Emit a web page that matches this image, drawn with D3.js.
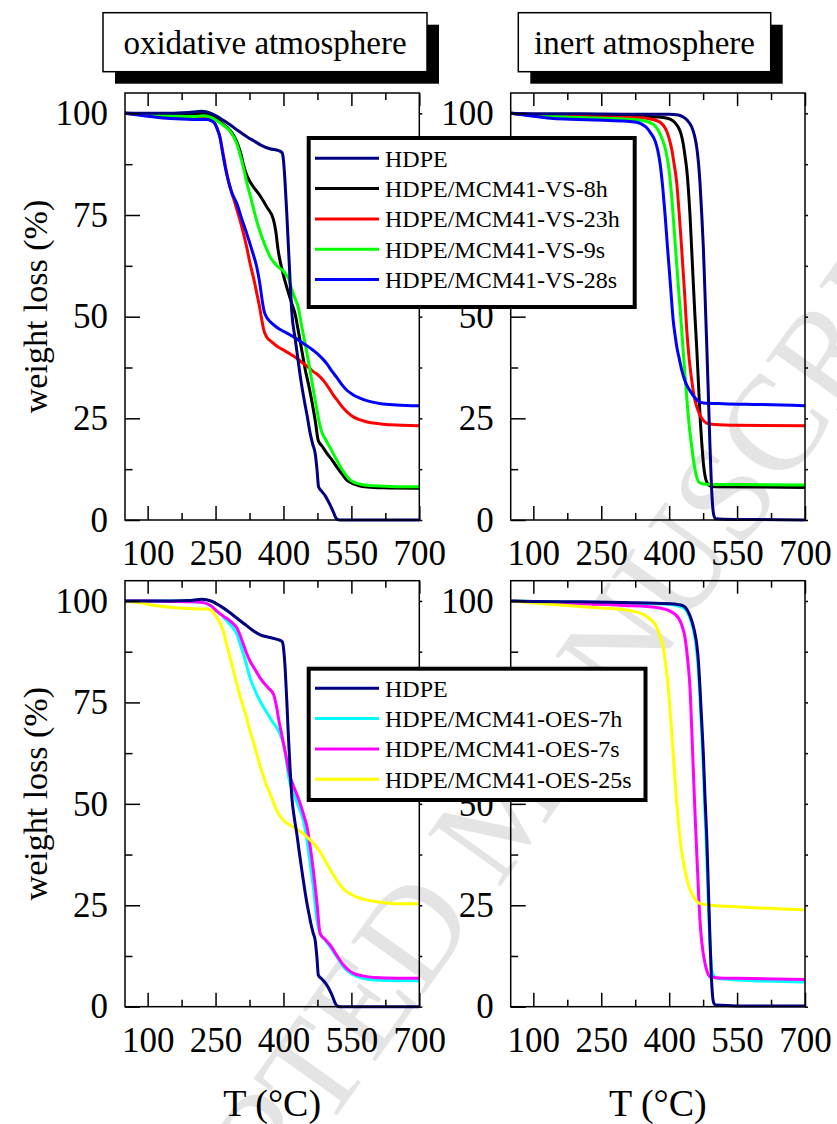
<!DOCTYPE html>
<html>
<head>
<meta charset="utf-8">
<script src="https://cdn.jsdelivr.net/npm/d3@7"></script>
<style>
  body { margin: 0; background: #fff; }
</style>
</head>
<body>
<div id="chart"></div>
<script>
// axis ticks
const tMajor = [100, 250, 400, 550, 700];
const tMinor = [175, 325, 475, 625];
const wMajor = [0, 25, 50, 75, 100];
const wMinor = [12.5, 37.5, 62.5, 87.5];
const wRight = [0, 12.5, 25, 37.5, 50, 62.5, 75, 87.5, 100];

// legend names / colours
const vsNames = ["HDPE", "HDPE/MCM41-VS-8h", "HDPE/MCM41-VS-23h", "HDPE/MCM41-VS-9s", "HDPE/MCM41-VS-28s"];
const vsColors = ["#000080", "#000000", "#ff0000", "#00ff00", "#0000ff"];
const oesNames = ["HDPE", "HDPE/MCM41-OES-7h", "HDPE/MCM41-OES-7s", "HDPE/MCM41-OES-25s"];
const oesColors = ["#000080", "#00ffff", "#ff00ff", "#ffff00"];

// oxidative atmosphere, VS samples  [T, weight %]
const oxHDPE = [[50,100],[100,100],[150,100],[190,100.2],[220,100.5],[240,100],[260,98.8],[282,97.2],[300,95.7],[320,94.2],[335,93.2],[350,92.2],[370,91.3],[390,90.8],[397,90.3],[400,88.5],[403,84],[407,76],[411,67],[415,58],[418.5,51],[426,44.5],[432,39.5],[438.4,34.4],[445,30],[452,25.8],[459,21.3],[465,18.5],[470,16.4],[474,12.5],[477.5,8.2],[485,7],[492,6],[498,4.8],[503,3.7],[510,2],[518,0.2],[525,0],[600,0],[700,0]];
const oxVS8h = [[50,100],[100,99.9],[150,99.8],[200,99.8],[225,99.9],[240,99.5],[253,98.6],[268,97.2],[282,95.8],[297,93],[306,90],[312,87.2],[320,84.5],[330,82.5],[348,79.8],[363,77],[378,73.8],[383,71],[388,66.5],[396,62],[404,58.5],[412,55.5],[419,53],[426,50.5],[432,47],[440,42],[448,37],[456,33],[463,29],[470,24.5],[477,19.5],[485,18.2],[496,16.4],[507,14.8],[518,13],[530,11.2],[540,9.8],[552,9],[565,8.5],[585,8.1],[620,7.9],[700,7.8]];
const oxVS23h = [[50,100],[100,99.5],[150,99.2],[200,99.1],[225,99.1],[240,98.4],[249,97.4],[255,95.8],[260,94],[266,90.5],[271,87.5],[277,84],[282,81.8],[290,79],[297,76.4],[305,73.3],[312,70.3],[319,67],[326,63.2],[334,59.5],[341,55.8],[347,52.5],[352,49.3],[357,46.5],[363,45],[374,43.8],[385,42.8],[400,41.8],[415,40.8],[430,39.7],[444,38.5],[456,37.5],[466,36.5],[478,35.5],[489,34.2],[500,32.5],[511,30.6],[522,29],[533,27.4],[544,26.2],[555,25.3],[570,24.6],[585,24.1],[610,23.7],[636,23.4],[700,23.2]];
const oxVS9s = [[50,100],[100,99.7],[150,99.4],[200,99.2],[225,99.4],[240,99],[253,98.2],[268,97],[282,95.6],[297,92.5],[305,89.5],[312,86.5],[320,82.5],[326,80],[334,76.5],[341,73.5],[348,71],[356,68.5],[364,66.3],[371,64.6],[378,63.5],[385,62.6],[393,61.8],[400,61.2],[406,60.3],[411,59.5],[416,57.5],[422,55.5],[428,53.8],[433,52.2],[438,49],[444,45.5],[452,41],[459,36.5],[466,32],[474,27],[480,23.5],[485,21.5],[494,19.6],[503,17.8],[514,15.5],[525,13.2],[535,11.5],[544,10.2],[555,9.3],[570,8.8],[599,8.4],[650,8.2],[700,8.2]];
const oxVS28s = [[50,100],[100,99.3],[150,98.7],[200,98.5],[230,98.5],[240,98.2],[249,97.4],[255,95.8],[260,94],[266,90],[271,87],[278,83.5],[286,80.5],[297,77.8],[308,74],[319,70.4],[330,66.5],[341,62.2],[348,58],[353,54],[357,51.5],[362,50],[367,49.2],[376,48.2],[385,47.4],[400,46.4],[415,45.5],[430,44.5],[444,43.4],[460,42.2],[474,41],[485,39.8],[496,38.4],[507,36.6],[518,35],[529,33.3],[540,31.9],[551,31],[562,30.3],[577,29.6],[592,29.1],[615,28.6],[650,28.3],[700,28.1]];

// inert atmosphere, VS samples
const inHDPE = [[50,100],[100,99.9],[200,99.9],[300,99.8],[400,99.8],[420,99.6],[431,99.1],[440,98.3],[450,96.6],[456,94.5],[461,91.5],[465,87.5],[468,83],[472,75],[475.5,67],[479,56],[483,43],[486.5,31],[490,18.5],[493,9.5],[496,3.5],[499,1],[503,0.3],[520,0.2],[600,0.1],[700,0]];
const inVS8h = [[50,100],[100,99.7],[200,99.5],[300,99.3],[372,99.1],[390,98.9],[402,98.6],[412,97.8],[420,96.6],[426,95],[431,92.5],[435,89.5],[439,86],[442,82],[446,75],[449.5,67],[453,59],[457,50],[461,42],[464.5,34],[468,26],[472,19],[475.5,14],[479,11],[483,9.3],[490,8.4],[500,8.2],[600,8.1],[700,8]];
const inVS23h = [[50,100],[100,99.5],[200,99.2],[300,99],[340,98.9],[358,98.6],[370,98.3],[380,97.8],[388,96.9],[394.5,95.6],[400,93.8],[405.6,91.2],[411,87.5],[416.6,83],[421,77],[425,71],[428,66],[431,61],[434.5,55],[438.7,47],[443,41],[449.8,34.4],[455,30.5],[461,27.8],[468,25.8],[475.5,24.5],[483,23.8],[500,23.5],[549,23.3],[700,23.2]];
const inVS9s = [[50,100],[100,99.5],[200,99],[300,98.6],[343,98.2],[360,97.6],[369,96.9],[377,95.6],[383.5,94],[389,92.3],[394.5,89.8],[400,85.8],[405.6,79.5],[411,71.5],[416.6,63],[422,55],[427.7,46.7],[433,38.5],[438.7,30.3],[444,23.5],[449.8,18],[455,13.8],[461,10.5],[468,9.1],[480,8.8],[550,8.7],[700,8.6]];
const inVS28s = [[50,100],[100,99.3],[144,98.7],[200,98.5],[255,98.3],[300,98.1],[328,97.8],[340,97.3],[350,96.5],[360,95],[369,93.2],[375,90.8],[380,87.6],[386,81.5],[391,75],[396,67.5],[402,59],[406,53],[409,49],[413,45.5],[417,42.5],[422,39.8],[427.7,36.9],[434,34.5],[440,32.9],[446,31.8],[455,30.3],[464.5,29.2],[475.5,28.8],[520,28.6],[600,28.4],[700,28.1]];

// oxidative atmosphere, OES samples
const oxHDPE2 = [[50,100],[100,100],[150,100],[190,100.1],[220,100.4],[240,100],[260,98.8],[282,97.1],[300,95.5],[320,93.8],[334,92.6],[350,91.6],[370,91],[390,90.4],[397,90],[400,88.5],[404,82.8],[407.5,75],[411,66.4],[415,58],[418.5,51.6],[424,46.5],[429.5,42.6],[435,38],[440.6,33.6],[446,29.5],[452,25.4],[457,22.5],[460.5,20.5],[466,18],[470,16.4],[474,12],[477,7.8],[485,6.8],[496,5.3],[501,4.3],[507,2.9],[513,1.2],[518,0.2],[525,0],[600,0],[700,0]];
const oxOES7h = [[50,100],[100,100],[150,100],[200,99.8],[223,99.6],[240,98.8],[252.7,97.5],[264,96.5],[275,95.1],[286,93.7],[297,91.8],[305,89.2],[311.6,86.9],[319,84],[326,81.1],[334,78.8],[341,77],[348,75.4],[356,73.8],[365,72.2],[374,70.5],[382,69.3],[389,68],[395,66.5],[400,64.8],[404,62.5],[407.5,59.8],[411,57],[415,54.9],[420,53.2],[426,51.6],[435,48.8],[444,45.9],[452,41],[459,35.2],[466,29.5],[474,21.3],[481,18],[492,16.4],[503,14.8],[518,12.3],[533,9.8],[544,8.6],[555,7.8],[575,7],[599,6.6],[650,6.4],[700,6.4]];
const oxOES7s = [[50,100],[100,100],[150,99.9],[200,99.8],[223,99.6],[240,98.8],[252.7,97.5],[268,96.2],[282,95.1],[290,94.3],[297,93.4],[305,91.3],[311.6,89.3],[319,87],[326,85.2],[334,83.7],[341,82.4],[348,81.1],[356,79.9],[367,78.5],[378,77],[382,75.4],[385,73.8],[390,70.5],[396,67.2],[401,64.3],[407.5,60.7],[411,58.5],[415,56.6],[420,55],[426,53.3],[432,51.6],[437,50],[444,47.5],[452,44.3],[459,39.5],[466,33.6],[474,25.5],[481,18],[492,16.6],[503,15.2],[518,12.6],[533,10.2],[544,9],[555,8.2],[575,7.6],[599,7.2],[650,7],[700,7]];
const oxOES25s = [[50,100],[80,99.6],[120,98.8],[179,98.2],[230,98],[240,97.7],[252.7,95.9],[260,94.5],[267,92.6],[274,89.5],[282,86.1],[290,82.6],[297,79.5],[304,76.6],[311.6,73.8],[319,71],[326,68],[334,65.1],[341,62.3],[348,59.4],[356,56.6],[363,54.4],[370.6,52.5],[378,50.3],[385,48.4],[392,47],[400,45.9],[411,45],[422,44.3],[433,43.5],[444,42.6],[459,41.1],[474,39.3],[485,37.4],[496,35.2],[507,33.1],[518,31.1],[529,29.5],[540,28.3],[551,27.6],[562,27],[580,26.4],[599,26],[620,25.7],[643,25.4],[700,25.4]];

// inert atmosphere, OES samples
const inHDPE2 = [[50,100],[100,99.9],[200,99.8],[300,99.6],[402,99.3],[420,99.1],[431,98.8],[440,97.8],[450,95.1],[456,92.5],[461,89.3],[465,84.5],[468,78.7],[472,70],[475.5,62.3],[479,52],[483,41.8],[486.5,29.5],[490,17.2],[493,8],[496,2.5],[499,0.8],[503,0.4],[550,0.2],[700,0.2]];
const inOES7h = [[50,100],[100,99.9],[200,99.7],[300,99.5],[400,99.2],[420,98.8],[431,98.4],[440,97.3],[450,94.5],[456,91.5],[461,87.5],[465,82],[468,76],[472,67],[475.5,58.5],[479,48],[483,37],[486.5,25.4],[490,16],[494,9],[499,7.5],[505,7],[550,6.6],[700,6.1]];
const inOES7s = [[50,100],[100,99.7],[200,99.3],[300,98.9],[372.5,98.4],[390,98],[402,97.5],[412,96.8],[420,95.9],[428,94],[435,91],[440,86.5],[443,83],[446,78.7],[450,68],[453.4,58.2],[457,48],[461,37.7],[464.5,29],[468,21.3],[472,16],[479,10.7],[484,8.6],[490,7.4],[510,7.1],[549,7],[700,6.7]];
const inOES25s = [[50,100],[100,99.5],[181,98.8],[250,98.3],[291.5,98],[320,97.5],[343,96.7],[355,95.8],[363,95],[369,94.3],[375,92.8],[381,91],[387,88.5],[392,84.5],[398,78.7],[403,71.5],[409,62.3],[414,54],[420,45.9],[426,39.5],[435,33.6],[442,30.2],[450,27.9],[458,26.4],[468,25.4],[490,25],[540,24.7],[586,24.4],[650,24.1],[700,23.9]];

const W = 837, H = 1124;
const FONT = "'Liberation Serif', 'Times New Roman', Times, serif";

const svg = d3.select("#chart").append("svg")
    .attr("width", W)
    .attr("height", H)
    .style("font-family", FONT);

// faint watermark behind everything, one text per letter
const wm = svg.append("g")
    .attr("transform", "translate(500,805) rotate(-54.5)")
    .style("font-size", "136px")
    .style("fill", "#e4e4e4");
const wmText = "ACCEPTED MANUSCRIPT";
const probe = wm.append("text").text(wmText);
const wmLen = probe.node().getComputedTextLength();
const wmPos = wmText.split("").map((ch, i) => probe.node().getStartPositionOfChar(i).x);
probe.remove();
wmText.split("").forEach((ch, i) => {
    if (ch === " ") return;
    wm.append("text")
        .attr("x", wmPos[i] - wmLen / 2)
        .attr("dy", "0.35em")
        .text(ch);
});

const cols = [{x0: 125, x1: 419.3}, {x0: 510.7, x1: 805}];
const rows = [{y0: 93, y1: 520}, {y0: 580.7, y1: 1006.7}];

const panels = [
    {c: 0, r: 0, series: [oxHDPE, oxVS8h, oxVS23h, oxVS9s, oxVS28s], colors: vsColors},
    {c: 1, r: 0, series: [inHDPE, inVS8h, inVS23h, inVS9s, inVS28s], colors: vsColors},
    {c: 0, r: 1, series: [oxHDPE2, oxOES7h, oxOES7s, oxOES25s], colors: oesColors},
    {c: 1, r: 1, series: [inHDPE2, inOES7h, inOES7s, inOES25s], colors: oesColors}
];

function styleAxis(g, fontSize) {
    g.select(".domain").remove();
    g.selectAll("line").attr("stroke", "#000").attr("stroke-width", 1.5);
    g.selectAll("text")
        .attr("fill", "#000")
        .style("font-family", FONT)
        .style("font-size", fontSize + "px");
}

panels.forEach(p => {
    const col = cols[p.c], row = rows[p.r];
    const x = d3.scaleLinear().domain([50, 700]).range([col.x0, col.x1]);
    const y = d3.scaleLinear().domain([0, 105]).range([row.y1, row.y0]);

    const g = svg.append("g");

    // data lines: samples first, pure HDPE on top
    const line = d3.line()
        .x(d => x(d[0]))
        .y(d => y(d[1]))
        .curve(d3.curveMonotoneX);
    const order = d3.range(1, p.series.length).concat([0]);
    order.forEach(i => {
        g.append("path")
            .attr("d", line(p.series[i]))
            .attr("fill", "none")
            .attr("stroke", p.colors[i])
            .attr("stroke-width", 3)
            .attr("stroke-linejoin", "round");
    });

    // bottom axis (labels) + minor ticks
    g.append("g")
        .attr("transform", "translate(0," + row.y1 + ")")
        .call(d3.axisBottom(x).tickValues(tMajor).tickSizeInner(-14).tickSizeOuter(0).tickPadding(20).tickFormat(d3.format("d")))
        .call(a => styleAxis(a, 35));
    g.append("g")
        .attr("transform", "translate(0," + row.y1 + ")")
        .call(d3.axisBottom(x).tickValues(tMinor).tickSizeInner(-7).tickSizeOuter(0).tickFormat(""))
        .call(a => styleAxis(a, 35));
    // top ticks
    g.append("g")
        .attr("transform", "translate(0," + row.y0 + ")")
        .call(d3.axisTop(x).tickValues(tMajor).tickSizeInner(-13).tickSizeOuter(0).tickFormat(""))
        .call(a => styleAxis(a, 35));
    g.append("g")
        .attr("transform", "translate(0," + row.y0 + ")")
        .call(d3.axisTop(x).tickValues(tMinor).tickSizeInner(-7).tickSizeOuter(0).tickFormat(""))
        .call(a => styleAxis(a, 35));
    // left axis
    g.append("g")
        .attr("transform", "translate(" + col.x0 + ",0)")
        .call(d3.axisLeft(y).tickValues(wMajor).tickSizeInner(-15).tickSizeOuter(0).tickPadding(17).tickFormat(d3.format("d")))
        .call(a => styleAxis(a, 35));
    g.append("g")
        .attr("transform", "translate(" + col.x0 + ",0)")
        .call(d3.axisLeft(y).tickValues(wMinor).tickSizeInner(-7.5).tickSizeOuter(0).tickFormat(""))
        .call(a => styleAxis(a, 35));
    // right: small outward ticks
    g.append("g")
        .attr("transform", "translate(" + col.x1 + ",0)")
        .call(d3.axisRight(y).tickValues(wRight).tickSizeInner(3).tickSizeOuter(0).tickFormat(""))
        .call(a => styleAxis(a, 35));

    // frame
    g.append("rect")
        .attr("x", col.x0)
        .attr("y", row.y0)
        .attr("width", col.x1 - col.x0)
        .attr("height", row.y1 - row.y0)
        .attr("fill", "none")
        .attr("stroke", "#000")
        .attr("stroke-width", 1.5);

    // axis titles
    if (p.c === 0) {
        svg.append("text")
            .attr("transform", "translate(47," + (row.y0 + row.y1) / 2 + ") rotate(-90)")
            .attr("text-anchor", "middle")
            .style("font-size", "34px")
            .text("weight loss (%)");
    }
    if (p.r === 1) {
        svg.append("text")
            .attr("x", (col.x0 + col.x1) / 2)
            .attr("y", 1116)
            .attr("text-anchor", "middle")
            .style("font-size", "38px")
            .text("T (°C)");
    }
});

// title boxes with drop shadow
const titles = [
    {text: "oxidative atmosphere", x: 103, w: 324},
    {text: "inert atmosphere", x: 518.3, w: 252.4}
];
titles.forEach(t => {
    svg.append("rect")
        .attr("x", t.x + 12).attr("y", 24.7)
        .attr("width", t.w).attr("height", 59)
        .attr("fill", "#000");
    svg.append("rect")
        .attr("x", t.x).attr("y", 12.7)
        .attr("width", t.w).attr("height", 59)
        .attr("fill", "#fff")
        .attr("stroke", "#000")
        .attr("stroke-width", 1.5);
    svg.append("text")
        .attr("x", t.x + t.w / 2)
        .attr("y", 53.5)
        .attr("text-anchor", "middle")
        .style("font-size", "33px")
        .text(t.text);
});

// legends (drawn last, they cover part of the right panels)
const legends = [
    {names: vsNames, colors: vsColors, x0: 308.7, x1: 634.7, y0: 138, y1: 307, first: 158.3},
    {names: oesNames, colors: oesColors, x0: 308.7, x1: 645.5, y0: 668.7, y1: 800, first: 688.3}
];
legends.forEach(L => {
    const lg = svg.append("g");
    lg.append("rect")
        .attr("x", L.x0).attr("y", L.y0)
        .attr("width", L.x1 - L.x0).attr("height", L.y1 - L.y0)
        .attr("fill", "#fff")
        .attr("stroke", "#000")
        .attr("stroke-width", 4);
    L.names.forEach((n, i) => {
        const yy = L.first + i * 30.3;
        lg.append("line")
            .attr("x1", 315).attr("x2", 379)
            .attr("y1", yy).attr("y2", yy)
            .attr("stroke", L.colors[i])
            .attr("stroke-width", 3);
        lg.append("text")
            .attr("x", 385).attr("y", yy)
            .attr("dy", "0.35em")
            .style("font-size", "24px")
            .text(n);
    });
});
</script>
</body>
</html>
